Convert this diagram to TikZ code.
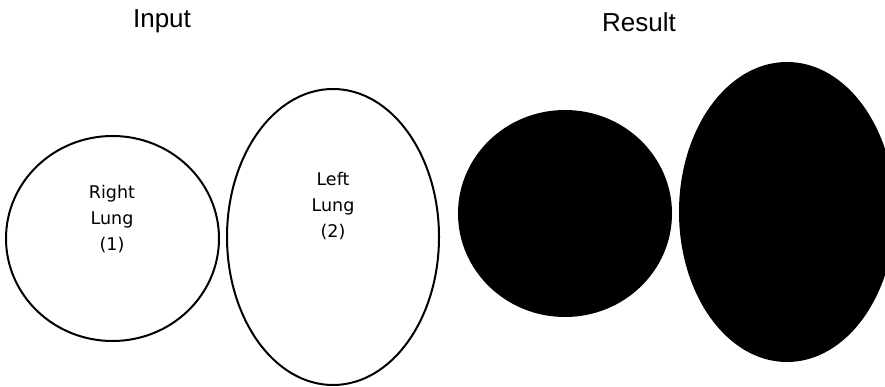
\documentclass[tikz,border=0pt]{standalone}
\usepackage{fontspec}
\setmainfont{Liberation Sans}
\newfontfamily\lungfont{DejaVu Sans}
\begin{document}
\begin{tikzpicture}[x=1pt,y=-1pt,
  lunglabel/.style={font=\lungfont\fontsize{17.5}{26}\selectfont,align=center,text=black},
  title/.style={font=\fontsize{26}{30}\selectfont,text=black}]
\useasboundingbox (0,0) rectangle (885,387);
\clip (0,0) rectangle (885,387);
\draw[line width=2pt] (112.5,238.5) ellipse [x radius=106.5,y radius=102.5];
\draw[line width=2pt] (333,237) ellipse [x radius=106,y radius=148];
\node[lunglabel] (rl) at (112,219) {Right\\Lung\\(1)};
\node[lunglabel] (ll) at (333,206) {Left\\Lung\\(2)};
\node[title] (in) at (162,21) {Input};
\node[title] (res) at (639,22) {Result};
\fill (565,213.5) ellipse [x radius=107,y radius=103.5];
\fill (787,212) ellipse [x radius=108,y radius=150];
\end{tikzpicture}
\end{document}
